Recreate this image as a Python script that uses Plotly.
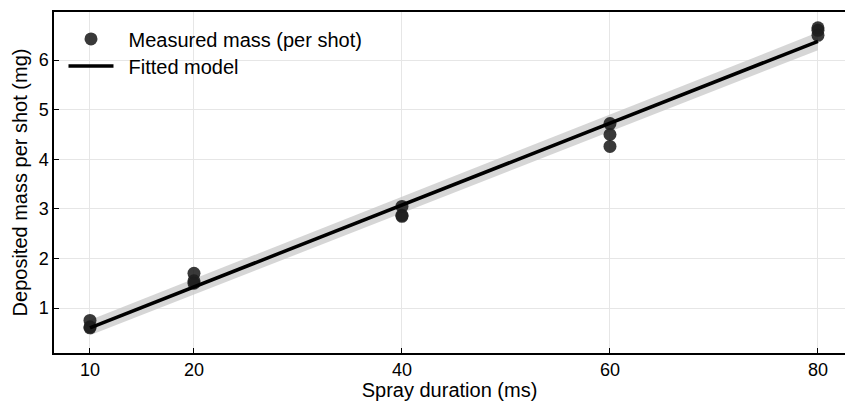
import plotly.graph_objects as go

# Data
duration_ms = [10, 10, 10, 20, 20, 20, 40, 40, 40, 60, 60, 60, 80, 80, 80]
mass_mg = [0.75, 0.62, 0.60, 1.70, 1.55, 1.50, 3.05, 2.87, 2.85, 4.72, 4.50, 4.26, 6.65, 6.60, 6.50]

fit_x = [10, 80]
fit_y = [0.60, 6.38]
band_lower = [0.45, 6.20]
band_upper = [0.76, 6.56]

x_ticks = [10, 20, 40, 60, 80]
y_ticks = [1, 2, 3, 4, 5, 6]

fig = go.Figure()
fig.add_trace(go.Scatter(x=fit_x, y=band_lower, mode="lines", line=dict(width=0),
                         showlegend=False, hoverinfo="skip"))
fig.add_trace(go.Scatter(x=fit_x, y=band_upper, mode="lines", line=dict(width=0),
                         fill="tonexty", fillcolor="rgba(200,200,200,0.75)",
                         showlegend=False, hoverinfo="skip"))
fig.add_trace(go.Scatter(x=duration_ms, y=mass_mg, mode="markers",
                         name="\u2002Measured mass (per shot)", legend="legend",
                         marker=dict(size=13, color="rgba(30,30,30,0.88)",
                                     line=dict(width=0))))
fig.add_trace(go.Scatter(x=fit_x, y=fit_y, mode="lines", name="\u2002Fitted model",
                         legend="legend2",
                         line=dict(color="black", width=3.5)))

font = "Liberation Sans, Arial, Helvetica, sans-serif"
leg_common = dict(x=0.012, xanchor="left", yanchor="middle",
                  bgcolor="rgba(0,0,0,0)", font=dict(size=20), itemwidth=45)
fig.update_layout(
    width=845, height=401,
    margin=dict(l=54, r=0, t=12, b=48),
    paper_bgcolor="white", plot_bgcolor="white",
    font=dict(family=font, size=17, color="black"),
    legend=dict(y=0.921, **leg_common),
    legend2=dict(y=0.842, **leg_common),
    xaxis=dict(range=[6.54, 82.6], tickvals=x_ticks, ticks="inside", ticklen=5,
               tickcolor="black", showline=True, linecolor="black", linewidth=1.5,
               mirror=True, showgrid=True, gridcolor="#e6e6e6", gridwidth=1,
               zeroline=False, automargin=False,
               title=dict(text="Spray duration (ms)", standoff=6),
               tickfont=dict(size=18)),
    yaxis=dict(range=[0.093, 6.97], tickvals=y_ticks, ticks="inside", ticklen=5,
               tickcolor="black", showline=True, linecolor="black", linewidth=1.5,
               showgrid=True, gridcolor="#e6e6e6", gridwidth=1, zeroline=False,
               automargin=False,
               title=dict(text="Deposited mass per shot (mg)", standoff=6),
               tickfont=dict(size=18)),
)
fig.write_html("out.html", config={"displayModeBar": False},
               post_script="document.body.style.margin='0';document.body.style.overflow='hidden';")
